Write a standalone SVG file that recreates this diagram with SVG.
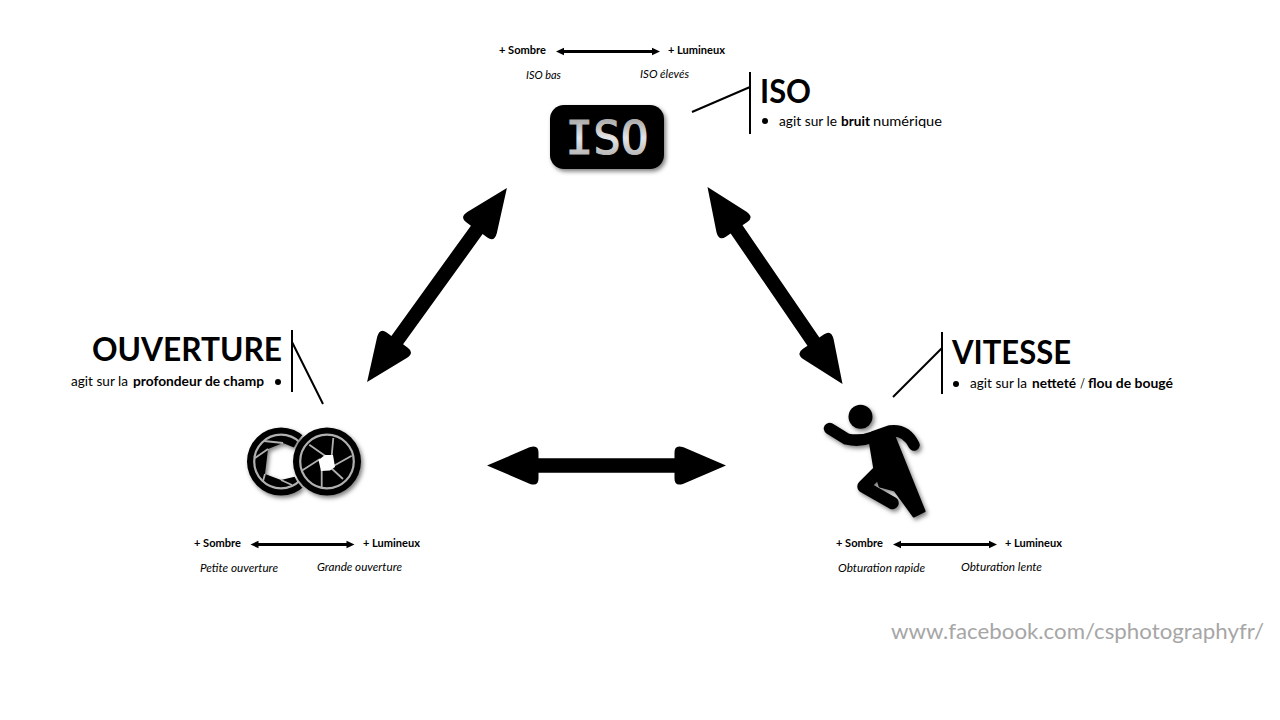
<svg xmlns="http://www.w3.org/2000/svg" width="1280" height="720" viewBox="0 0 1280 720">
<style>
text{font-family:"Lato","Open Sans",sans-serif;fill:#000}
.t{font-size:32px;font-weight:700}
.d{font-size:13px}
.b{font-weight:700}
.s{font-size:10.5px;font-weight:700}
.i{font-size:10.5px;font-style:italic}
.l{stroke:#000;stroke-width:2;fill:none}
.gl{stroke:#b0b0b0;stroke-width:1.8;fill:none}
.ring{fill:none;stroke:#b0b0b0;stroke-width:2.2}
</style>
<defs>
<filter id="sh" x="-20%" y="-20%" width="150%" height="150%"><feDropShadow dx="2" dy="2.5" stdDeviation="2.2" flood-color="#000" flood-opacity="0.5"/></filter>
<linearGradient id="isog" x1="0" y1="0" x2="0" y2="1"><stop offset="0" stop-color="#909090"/><stop offset="0.5" stop-color="#e6e6e6"/><stop offset="1" stop-color="#9c9c9c"/></linearGradient>
<path id="big" d="M-119.500 0L-77 -18.200Q-68 -21.500 -68 -13V-7.200H68V-13Q68 -21.500 77 -18.200L119.500 0L77 18.200Q68 21.500 68 13V7.200H-68V13Q-68 21.500 -77 18.200Z" fill="#000"/>
<path id="small" d="M-52 0L-44 -3.800V-1.400H44V-3.800L52 0L44 3.800V1.400H-44V3.800Z" fill="#000"/>
<mask id="cut" maskUnits="userSpaceOnUse" x="230" y="415" width="150" height="95"><rect x="230" y="415" width="150" height="95" fill="#fff"/><circle cx="327" cy="461.500" r="36" fill="#000"/></mask>
</defs>
<rect width="1280" height="720" fill="#fff"/>
<g id="connectors">
<use href="#big" transform="translate(437 285) rotate(-54.2)"/>
<use href="#big" transform="translate(775 285.5) rotate(55.6)"/>
<use href="#big" transform="translate(606.5 465.5)"/>
</g>
<g id="iso">
<g filter="url(#sh)"><rect x="550" y="105" width="114" height="64" rx="14" fill="#000"/></g>
<text x="607" y="154" text-anchor="middle" style="font-family:'DejaVu Sans Mono',monospace;font-size:46px;fill:url(#isog);stroke:url(#isog);stroke-width:1.200">ISO</text>
<text class="s" x="499" y="54" textLength="47" lengthAdjust="spacingAndGlyphs">+ Sombre</text>
<use href="#small" transform="translate(608 51.500)"/>
<text class="s" x="668" y="54" textLength="57" lengthAdjust="spacingAndGlyphs">+ Lumineux</text>
<text class="i" x="526" y="78.500" textLength="35" lengthAdjust="spacingAndGlyphs">ISO bas</text>
<text class="i" x="640" y="77.500" textLength="49" lengthAdjust="spacingAndGlyphs">ISO élevés</text>
<path class="l" d="M750 72V134M692 112L750 87"/>
<text class="t" x="760" y="103" textLength="51" lengthAdjust="spacingAndGlyphs">ISO</text>
<circle cx="765" cy="121" r="3"/>
<text class="d" y="125.500"><tspan x="779" textLength="58" lengthAdjust="spacingAndGlyphs">agit sur le</tspan><tspan class="b" x="841" textLength="29" lengthAdjust="spacingAndGlyphs">bruit</tspan><tspan x="873" textLength="69" lengthAdjust="spacingAndGlyphs">numérique</tspan></text>
</g>
<g id="ouverture">
<g filter="url(#sh)">
<g mask="url(#cut)">
<path fill-rule="evenodd" d="M247 461.500a34 34 0 1 0 68 0a34 34 0 1 0 -68 0ZM268 449L283 443L300 450L302 475L281 480L265 474Z" fill="#000"/>
<circle class="ring" cx="281" cy="461.500" r="26.800"/>
<path class="gl" stroke-width="1.500" d="M268 449L255 458M283 443L264 441M265 474L263 481M281 480L292 485M300 450L303 440"/>
</g>
<circle cx="327" cy="461.500" r="34" fill="#000"/>
<circle class="ring" cx="327" cy="461.500" r="26.800"/>
<path class="gl" d="M309.300 444.700L325 455.700M333.300 438L331.700 455.700M351.700 455.700L331.700 467M343 479L330 467M321.700 487.300L321.700 469M301.700 470.700L320 459"/>
<path d="M325 455L333 455L335 467L330 470.500L321 471L318.500 460Z" fill="#fff"/>
</g>
<text class="s" x="194" y="547" textLength="47" lengthAdjust="spacingAndGlyphs">+ Sombre</text>
<use href="#small" transform="translate(302.500 544.500)"/>
<text class="s" x="363" y="547" textLength="57" lengthAdjust="spacingAndGlyphs">+ Lumineux</text>
<text class="i" x="200" y="572" textLength="78" lengthAdjust="spacingAndGlyphs">Petite ouverture</text>
<text class="i" x="317" y="571" textLength="85" lengthAdjust="spacingAndGlyphs">Grande ouverture</text>
<path class="l" d="M292 330V392M292 342L323 404"/>
<text class="t" x="92" y="361" textLength="190" lengthAdjust="spacingAndGlyphs">OUVERTURE</text>
<circle cx="278" cy="382" r="3"/>
<text class="d" y="386"><tspan x="71" textLength="57" lengthAdjust="spacingAndGlyphs">agit sur la</tspan><tspan class="b" x="133" textLength="131" lengthAdjust="spacingAndGlyphs">profondeur de champ</tspan></text>
</g>
<g id="vitesse">
<g filter="url(#sh)" fill="#000" stroke="#000">
<circle cx="860.500" cy="416.700" r="12" stroke="none"/>
<path d="M829.500 428.500L846.500 439Q860 442 873 437L890 431Q906 429 914 445" fill="none" stroke-width="11.500" stroke-linecap="round" stroke-linejoin="round"/>
<path d="M870 440L893 434L924 511L914 516L895 490L880 486L875 470Z" stroke-width="3" stroke-linejoin="round"/>
<path d="M877 473L863.500 486.500L892.500 503" fill="none" stroke-width="12.500" stroke-linecap="round" stroke-linejoin="round"/>
</g>
<text class="s" x="836" y="547" textLength="47" lengthAdjust="spacingAndGlyphs">+ Sombre</text>
<use href="#small" transform="translate(945 544.500)"/>
<text class="s" x="1005" y="547" textLength="57" lengthAdjust="spacingAndGlyphs">+ Lumineux</text>
<text class="i" x="838" y="572" textLength="87" lengthAdjust="spacingAndGlyphs">Obturation rapide</text>
<text class="i" x="961" y="571" textLength="81" lengthAdjust="spacingAndGlyphs">Obturation lente</text>
<path class="l" d="M942 332V394M893 397L942 348"/>
<text class="t" x="952" y="364" textLength="119" lengthAdjust="spacingAndGlyphs">VITESSE</text>
<circle cx="956" cy="384" r="3"/>
<text class="d" y="388"><tspan x="970" textLength="57" lengthAdjust="spacingAndGlyphs">agit sur la</tspan><tspan class="b" x="1032" textLength="44" lengthAdjust="spacingAndGlyphs">netteté</tspan><tspan x="1080" textLength="5" lengthAdjust="spacingAndGlyphs">/</tspan><tspan class="b" x="1088" textLength="85" lengthAdjust="spacingAndGlyphs">flou de bougé</tspan></text>
</g>
<text id="credit" x="891" y="639" textLength="373" lengthAdjust="spacingAndGlyphs" style="font-size:21px;fill:#a6a6a6">www.facebook.com/csphotographyfr/</text>
</svg>
